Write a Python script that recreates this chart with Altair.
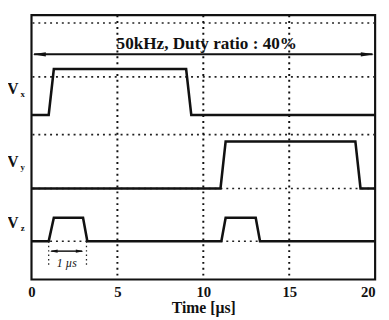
import altair as alt
import pandas as pd

# ---- data (time in µs, level in chart units) ----
vx_t = [0, 1.0, 1.3, 9.0, 9.3, 20]
vx_v = [168, 168, 215, 215, 168, 168]
vy_t = [0, 11.0, 11.3, 18.85, 19.15, 20]
vy_v = [93, 93, 141, 141, 93, 93]
vz_t = [0, 1.0, 1.3, 3.0, 3.25, 11.05, 11.3, 13.05, 13.3, 20]
vz_v = [39, 39, 63, 63, 39, 39, 63, 63, 39, 39]

grid_h = [262, 207, 148, 93, 39]
grid_v = [5, 10, 15]
x_ticks = [0, 5, 10, 15, 20]

signal_names = ["V", "V", "V"]
signal_subs = ["x", "y", "z"]
signal_label_y = [194, 120, 58]

title_text = "50kHz, Duty ratio : 40%"
pulse_text = "1 µs"

FONT = "Liberation Serif"

sig = pd.concat([
    pd.DataFrame({"t": vx_t, "v": vx_v, "s": "x", "o": range(len(vx_t))}),
    pd.DataFrame({"t": vy_t, "v": vy_v, "s": "y", "o": range(len(vy_t))}),
    pd.DataFrame({"t": vz_t, "v": vz_v, "s": "z", "o": range(len(vz_t))}),
])

xs = alt.Scale(domain=[0, 20], nice=False, zero=False)
ys = alt.Scale(domain=[0, 270], nice=False, zero=False)

xaxis = alt.Axis(values=x_ticks, ticks=False, domain=False, grid=False,
                 labelFont=FONT, labelFontWeight="bold", labelFontSize=15,
                 labelColor="#111", labelPadding=5, title="Time [µs]",
                 labelAlign={"condition": {"test": "datum.value == 20", "value": "right"},
                             "value": "center"},
                 titleFont=FONT, titleFontWeight="bold", titleFontSize=16,
                 titleColor="#111", titlePadding=1, labelFlush=False)

hgrid = alt.Chart(pd.DataFrame({"y": grid_h})).mark_rule(
    color="#222", strokeDash=[2, 4], strokeWidth=1.6
).encode(y=alt.Y("y:Q", scale=ys, axis=None))

vgrid = alt.Chart(pd.DataFrame({"x": grid_v})).mark_rule(
    color="#111", strokeDash=[2, 4], strokeWidth=2
).encode(x=alt.X("x:Q", scale=xs, axis=xaxis))

lines = alt.Chart(sig).mark_line(color="#111", strokeWidth=2.6,
                                 strokeJoin="miter", clip=False).encode(
    x=alt.X("t:Q", scale=xs),
    y=alt.Y("v:Q", scale=ys),
    detail="s:N",
    order="o:Q",
)

# double arrow at top
arrow_df = pd.DataFrame({"x": [0.15], "x2": [19.85], "y": [230]})
arrow_line = alt.Chart(arrow_df).mark_rule(color="#111", strokeWidth=2).encode(
    x=alt.X("x:Q", scale=xs), x2="x2:Q", y=alt.Y("y:Q", scale=ys))
head_df = pd.DataFrame({"x": [0.45, 19.55], "y": [230, 230], "a": [0, 180]})
heads = alt.Chart(head_df).mark_point(
    shape="M -1 0 L 1 -0.32 L 1 0.32 Z", filled=True, color="#111",
    size=180, opacity=1).encode(
    x=alt.X("x:Q", scale=xs), y=alt.Y("y:Q", scale=ys),
    angle=alt.Angle("a:Q", scale=None))

title_mark = alt.Chart(pd.DataFrame({"x": [10.2], "y": [240], "t": [title_text]})).mark_text(
    font=FONT, fontWeight="bold", fontSize=17.5, color="#111", baseline="middle"
).encode(x=alt.X("x:Q", scale=xs), y=alt.Y("y:Q", scale=ys), text="t:N")

# 1 µs annotation
p_df = pd.DataFrame({"x": [1.15], "x2": [2.95], "y": [29]})
p_line = alt.Chart(p_df).mark_rule(color="#111", strokeWidth=1.5).encode(
    x=alt.X("x:Q", scale=xs), x2="x2:Q", y=alt.Y("y:Q", scale=ys))
p_head_df = pd.DataFrame({"x": [1.3, 2.8], "y": [29, 29], "a": [0, 180]})
p_heads = alt.Chart(p_head_df).mark_point(
    shape="M -1 0 L 1 -0.4 L 1 0.4 Z", filled=True, color="#111",
    size=60, opacity=1).encode(
    x=alt.X("x:Q", scale=xs), y=alt.Y("y:Q", scale=ys),
    angle=alt.Angle("a:Q", scale=None))
p_ticks = alt.Chart(pd.DataFrame({"x": [1.0, 3.2], "y": [39, 39], "y2": [14, 14]})).mark_rule(
    color="#222", strokeDash=[1.5, 3], strokeWidth=1.3).encode(
    x=alt.X("x:Q", scale=xs), y=alt.Y("y:Q", scale=ys), y2="y2:Q")
p_text = alt.Chart(pd.DataFrame({"x": [2.05], "y": [17], "t": [pulse_text]})).mark_text(
    font=FONT, fontStyle="italic", fontSize=12, color="#111", baseline="middle"
).encode(x=alt.X("x:Q", scale=xs), y=alt.Y("y:Q", scale=ys), text="t:N")

# signal labels left of frame
lab_df = pd.DataFrame({"n": signal_names, "s": signal_subs, "y": signal_label_y})
v_lab = alt.Chart(lab_df).mark_text(
    font=FONT, fontWeight="bold", fontSize=16, color="#111", baseline="middle",
    align="center", clip=False
).encode(x=alt.value(-19), y=alt.Y("y:Q", scale=ys), text="n:N")
s_lab = alt.Chart(lab_df).mark_text(
    font=FONT, fontWeight="bold", fontSize=9, color="#111", baseline="middle",
    align="center", dy=5, clip=False
).encode(x=alt.value(-9), y=alt.Y("y:Q", scale=ys), text="s:N")

chart = alt.layer(
    hgrid, vgrid, lines, arrow_line, heads, title_mark,
    p_ticks, p_line, p_heads, p_text, v_lab, s_lab
).properties(
    width=351, height=270,
    autosize=alt.AutoSizeParams(type="none"),
    padding={"left": 24, "top": 4, "right": 6, "bottom": 38},
    background="white",
).configure_view(stroke="#111", strokeWidth=2.2)

chart.save("out.html", embed_options={"renderer": "svg", "actions": False})
